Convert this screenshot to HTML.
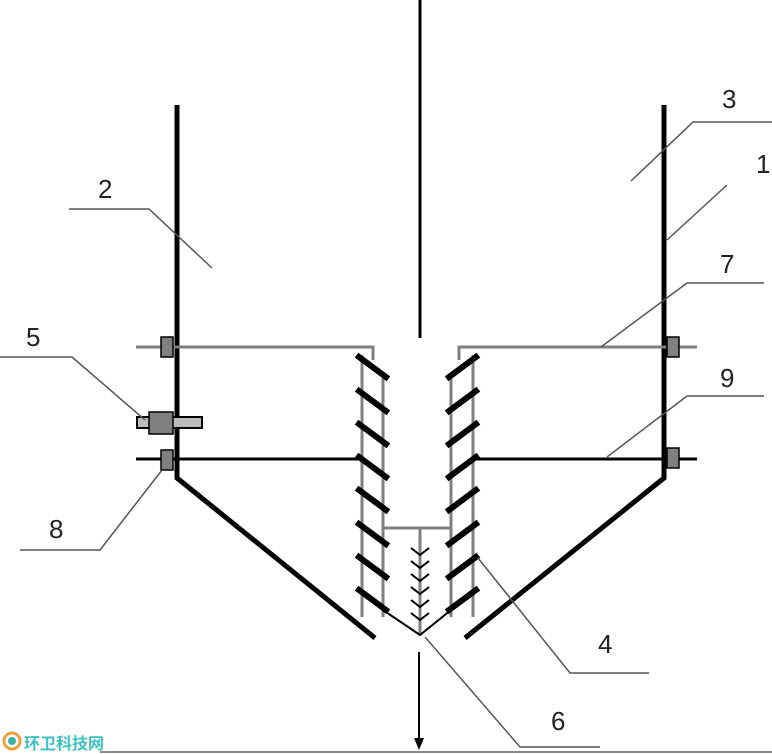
<!DOCTYPE html>
<html><head><meta charset="utf-8"><style>
html,body{margin:0;padding:0;background:#fff;width:772px;height:754px;overflow:hidden}
svg{display:block}
text{font-family:"Liberation Sans",sans-serif;font-size:26px;fill:#222}
</style></head><body>
<svg width="772" height="754" viewBox="0 0 772 754" xmlns="http://www.w3.org/2000/svg">
<!-- central rod & arrow -->
<line x1="420" y1="0" x2="420" y2="338" stroke="#000" stroke-width="3"/>
<line x1="419" y1="652" x2="419" y2="740" stroke="#000" stroke-width="2"/>
<polygon points="414,738 424,738 419,750" fill="#000"/>
<!-- walls -->
<polyline points="177,105 177,478 375,638" fill="none" stroke="#000" stroke-width="5"/>
<polyline points="664,105 664,478 465,638" fill="none" stroke="#000" stroke-width="5"/>
<!-- gray line 7 -->
<polyline points="136,347 373,347 373,360" fill="none" stroke="#808080" stroke-width="3"/>
<polyline points="697,347 459,347 459,360" fill="none" stroke="#808080" stroke-width="3"/>
<!-- black line 9 -->
<line x1="136" y1="459" x2="362" y2="459" stroke="#000" stroke-width="3"/>
<line x1="473" y1="459" x2="697" y2="459" stroke="#000" stroke-width="3"/>
<!-- rails -->
<g stroke="#808080" stroke-width="3">
<line x1="362" y1="355" x2="362" y2="617"/>
<line x1="383" y1="378" x2="383" y2="617"/>
<line x1="451" y1="378" x2="451" y2="617"/>
<line x1="473" y1="355" x2="473" y2="617"/>
<line x1="383" y1="528" x2="451" y2="528"/>
<line x1="420" y1="528" x2="420" y2="635"/>
</g>
<!-- slats -->
<g stroke="#000" stroke-width="6" stroke-linecap="square">
<line x1="359" y1="357" x2="386" y2="377"/><line x1="476" y1="357" x2="449" y2="377"/>
<line x1="359" y1="391" x2="386" y2="411"/><line x1="476" y1="391" x2="449" y2="411"/>
<line x1="359" y1="424" x2="386" y2="444"/><line x1="476" y1="424" x2="449" y2="444"/>
<line x1="359" y1="457" x2="386" y2="477"/><line x1="476" y1="457" x2="449" y2="477"/>
<line x1="359" y1="490" x2="386" y2="510"/><line x1="476" y1="490" x2="449" y2="510"/>
<line x1="359" y1="524" x2="386" y2="544"/><line x1="476" y1="524" x2="449" y2="544"/>
<line x1="359" y1="557" x2="386" y2="577"/><line x1="476" y1="557" x2="449" y2="577"/>
<line x1="359" y1="590" x2="386" y2="610"/><line x1="476" y1="590" x2="449" y2="610"/>
</g>
<!-- bottom V -->
<polyline points="383,610 420,635 451,610" fill="none" stroke="#000" stroke-width="2"/>
<!-- chevrons -->
<g fill="none" stroke="#000" stroke-width="2">
<polyline points="411,548 420,555 429,548"/>
<polyline points="411,561 420,568 429,561"/>
<polyline points="411,574 420,581 429,574"/>
<polyline points="411,587 420,594 429,587"/>
<polyline points="411,600 420,607 429,600"/>
<polyline points="411,613 420,620 429,613"/>
</g>
<!-- element 5 -->
<rect x="137" y="417" width="65" height="11" fill="#bbb" stroke="#000" stroke-width="2"/>
<rect x="149" y="412" width="24" height="22" fill="#808080" stroke="#000" stroke-width="1.5"/>
<!-- small boxes -->
<g fill="#808080" stroke="#000" stroke-width="1.5">
<rect x="161" y="337" width="12" height="20"/>
<rect x="161" y="450" width="12" height="20"/>
<rect x="667" y="337" width="12" height="20"/>
<rect x="667" y="448" width="12" height="20"/>
</g>
<!-- leaders -->
<g fill="none" stroke="#555" stroke-width="1.5">
<polyline points="69,209 149,209 212,268"/>
<polyline points="772,122 693,122 631,181"/>
<line x1="727" y1="185" x2="667" y2="240"/>
<polyline points="764,283 687,283 601,347"/>
<polyline points="764,396 687,396 607,457"/>
<polyline points="0,357 72,357 145,420"/>
<polyline points="20,550 100,550 162,470"/>
<polyline points="649,673 570,673 478,558"/>
<polyline points="600,747 520,747 425,637"/>
</g>
<line x1="100" y1="752" x2="772" y2="752" stroke="#888" stroke-width="2"/>
<!-- labels -->
<text x="98" y="198">2</text>
<text x="722" y="108">3</text>
<text x="756" y="173">1</text>
<text x="720" y="273">7</text>
<text x="720" y="387">9</text>
<text x="26" y="346">5</text>
<text x="49" y="538">8</text>
<text x="598" y="653">4</text>
<text x="551" y="730">6</text>
<!-- logo -->
<circle cx="12" cy="741" r="8" fill="none" stroke="#e8a040" stroke-width="3"/>
<circle cx="12" cy="741" r="4" fill="#3cb0a0"/>
<text x="24" y="749" style="font-family:'Liberation Sans','Noto Sans CJK SC',sans-serif;font-size:16px;font-weight:bold;fill:#3cc0c0">环卫科技网</text>
</svg>
</body></html>
